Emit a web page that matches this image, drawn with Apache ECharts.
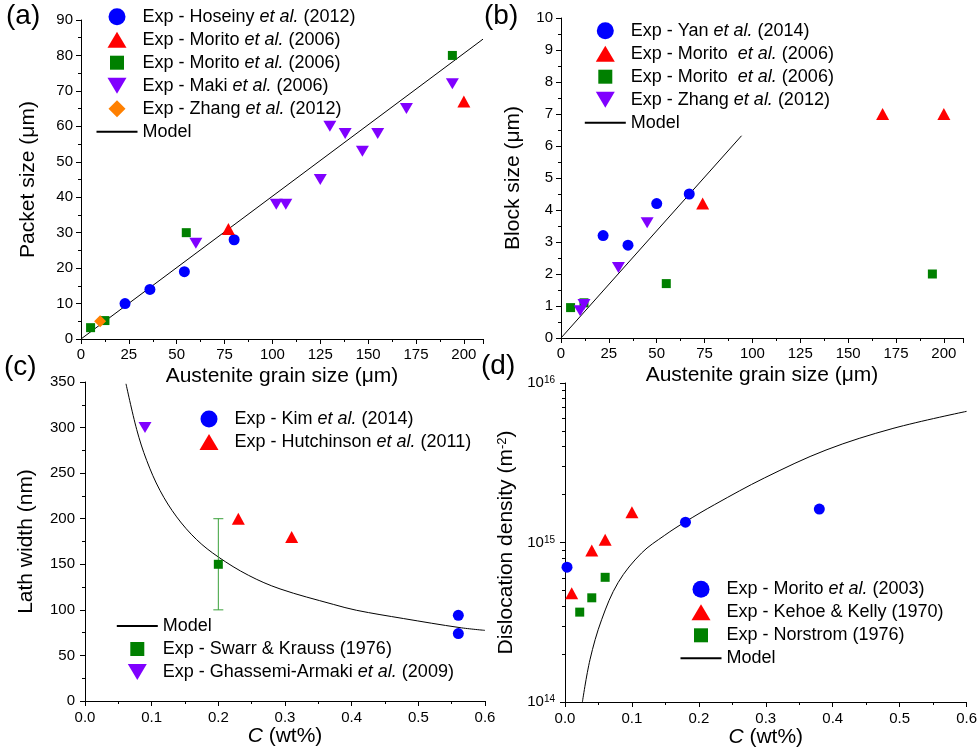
<!DOCTYPE html>
<html><head><meta charset="utf-8">
<script src="https://cdn.jsdelivr.net/npm/echarts@6/dist/echarts.min.js"></script>
<style>html,body{margin:0;padding:0;background:#fff}#c{width:980px;height:753px}</style>
</head><body><div id="c"></div>
<script>
// ---------- Panel (a): packet size vs austenite grain size ----------
const aHoseiny = [[23,10],[36,14],[54,19],[80,28]];
const aMoritoTri = [[77,31],[200,67]];
const aMoritoSq = [[5,3.2],[12.5,5.2],[55,30],[194,80]];
const aMaki = [[60,27],[102,38],[107,38],[125,45],[130,60],[138,58],[147,53],[155,58],[170,65],[194,72]];
const aZhang = [[10,5]];
const aModel = [[0,0],[210,84.6]];
// ---------- Panel (b): block size ----------
const bYan = [[22,3.2],[35,2.9],[50,4.2],[67,4.5]];
const bMoritoTri = [[74,4.2],[168,7],[200,7]];
const bMoritoSq = [[5,0.95],[12,1.1],[55,1.7],[194,2.0]];
const bZhang = [[10,0.85],[12,1.05],[30,2.2],[45,3.6]];
const bModel = [[0,0],[94.3,6.32]];
// ---------- Panel (c): lath width ----------
const cKim = [[0.56,94],[0.56,74]];
const cHutch = [[0.23,200],[0.31,180]];
const cSwarr = [[0.2,150]];
const cSwarrErr = [[0.2,100,200]];
const cGhassemi = [[0.09,300]];
const cModel = [[0.0615,348],[0.0775,298],[0.0925,264],[0.1125,231],[0.1375,202],[0.1675,177],[0.2,158],[0.245,138],[0.2925,123],[0.3725,106],[0.4075,99.5],[0.4775,90.5],[0.5625,80.5],[0.6,77.5]];
// ---------- Panel (d): dislocation density ----------
const dMorito = [[0.003,7.0e14],[0.18,1.34e15],[0.38,1.62e15]];
const dKehoe = [[0.01,4.8e14],[0.04,8.9e14],[0.06,1.04e15],[0.1,1.55e15]];
const dNorstrom = [[0.022,3.66e14],[0.04,4.5e14],[0.06,6.05e14]];
const dModel = [[0.026,1e14],[0.0373,1.84e14],[0.0547,3.28e14],[0.0795,5.62e14],[0.1144,8.59e14],[0.149,1.11e15],[0.18,1.35e15],[0.2237,1.73e15],[0.298,2.54e15],[0.39,3.8e15],[0.49,5.19e15],[0.6,6.64e15]];
const dMinorTicks = [2e14,3e14,4e14,5e14,6e14,7e14,8e14,9e14,2e15,3e15,4e15,5e15,6e15,7e15,8e15,9e15];

// ---------- texts ----------
const LABELS = {
  aHoseiny: 'Exp - Hoseiny {i|et al.} (2012)',
  aMoritoTri: 'Exp - Morito {i|et al.} (2006)',
  aMoritoSq: 'Exp - Morito {i|et al.} (2006)',
  aMaki: 'Exp - Maki {i|et al.} (2006)',
  aZhang: 'Exp - Zhang {i|et al.} (2012)',
  aModel: 'Model',
  bYan: 'Exp - Yan {i|et al.} (2014)',
  bMoritoTri: 'Exp - Morito  {i|et al.} (2006)',
  bMoritoSq: 'Exp - Morito  {i|et al.} (2006)',
  bZhang: 'Exp - Zhang {i|et al.} (2012)',
  bModel: 'Model',
  cKim: 'Exp - Kim {i|et al.} (2014)',
  cHutch: 'Exp - Hutchinson {i|et al.} (2011)',
  cModel: 'Model',
  cSwarr: 'Exp - Swarr & Krauss (1976)',
  cGhassemi: 'Exp - Ghassemi-Armaki {i|et al.} (2009)',
  dMorito: 'Exp - Morito {i|et al.} (2003)',
  dKehoe: 'Exp - Kehoe & Kelly (1970)',
  dNorstrom: 'Exp - Norstrom (1976)',
  dModel: 'Model'
};
const AX_GRAIN = 'Austenite grain size (μm)';
const AX_C = '{i|C} (wt%)';
const AY_A = 'Packet size (μm)';
const AY_B = 'Block size (μm)';
const AY_C = 'Lath width (nm)';
const AY_D = 'Dislocation density (m{s|-2})';

const FONT = '"Liberation Sans", Arial, Helvetica, sans-serif';
const BLUE='#0000ff', RED='#ff0000', GREEN='#008000', PURPLE='#8000ff', ORANGE='#ff8000', EBAR='#3aa03a';
const DOWN = 'path://M0,0 L10,0 L5,8.66 Z';
// legend icons drawn inside a 41x17 box (the leading moves fix the box)
const BOX = 'path://M0,0 M41,17 ';
const ICON = {
  circle: BOX + 'M12,8.5 A8.5,8.5 0 1,1 29,8.5 A8.5,8.5 0 1,1 12,8.5 Z',
  triangle: BOX + 'M11,16.5 L30,16.5 L20.5,0.5 Z',
  rect: BOX + 'M13.5,1.5 L27.5,1.5 L27.5,15.5 L13.5,15.5 Z',
  down: BOX + 'M11,0.5 L30,0.5 L20.5,16.5 Z',
  diamond: BOX + 'M20.5,0 L29,8.5 L20.5,17 L12,8.5 Z'
};

const grids = [
  {left:81, top:20, width:402, height:319},
  {left:561, top:18, width:402, height:320},
  {left:85, top:382, width:400, height:319},
  {left:565, top:383, width:402, height:319},
  {left:565, top:383, width:402, height:319}   // overlay of (d) for its log minor ticks
];

function baseAxis(gi, extra) {
  return Object.assign({
    gridIndex: gi,
    axisLine: {onZero:false, lineStyle:{color:'#000', width:1}},
    axisTick: {inside:false, length:5, lineStyle:{color:'#000', width:1}},
    minorTick: {show:true, splitNumber:2, length:3, lineStyle:{color:'#000', width:1}},
    splitLine: {show:false},
    minorSplitLine: {show:false},
    nameLocation: 'middle',
    nameTextStyle: {color:'#000', fontSize:21, fontFamily:FONT,
      rich:{i:{fontStyle:'italic', fontSize:21, fontFamily:FONT, color:'#000'},
            s:{fontSize:13, fontFamily:FONT, color:'#000', verticalAlign:'top'}}},
    axisLabel: {color:'#000', fontSize:15, fontFamily:FONT, margin:8}
  }, extra);
}
const hide210 = v => v > 200 ? '' : String(v);
const fmt1 = v => v.toFixed(1);

const xAxis = [
  baseAxis(0, {type:'value', min:0, max:210, interval:25, name:AX_GRAIN, nameGap:27,
    axisLabel:{color:'#000', fontSize:15, fontFamily:FONT, margin:8, formatter:hide210}}),
  baseAxis(1, {type:'value', min:0, max:210, interval:25, name:AX_GRAIN, nameGap:27,
    axisLabel:{color:'#000', fontSize:15, fontFamily:FONT, margin:8, formatter:hide210}}),
  baseAxis(2, {type:'value', min:0, max:0.6, interval:0.1, name:AX_C, nameGap:23,
    axisLabel:{color:'#000', fontSize:15, fontFamily:FONT, margin:9, formatter:fmt1}}),
  baseAxis(3, {type:'value', min:0, max:0.6, interval:0.1, name:AX_C, nameGap:23,
    axisLabel:{color:'#000', fontSize:15, fontFamily:FONT, margin:9, formatter:fmt1}}),
  {type:'value', gridIndex:4, min:0, max:0.6, show:false}
];
const yAxis = [
  baseAxis(0, {type:'value', min:0, max:90, interval:10, name:AY_A, nameGap:42}),
  baseAxis(1, {type:'value', min:0, max:10, interval:1, name:AY_B, nameGap:37}),
  baseAxis(2, {type:'value', min:0, max:350, interval:50, name:AY_C, nameGap:48,
    axisLabel:{color:'#000', fontSize:15, fontFamily:FONT, margin:10}}),
  baseAxis(3, {type:'log', logBase:10, min:1e14, max:1e16, name:AY_D, nameGap:48, position:'left',
    minorTick:{show:false},
    axisLabel:{color:'#000', fontSize:15, fontFamily:FONT, margin:10,
      formatter: v => '{b|10}{s|' + Math.round(Math.log10(v)) + '}',
      rich:{b:{fontSize:15, fontFamily:FONT, color:'#000'},
            s:{fontSize:10, fontFamily:FONT, color:'#000', verticalAlign:'top'}}}}),
  // helper axis (linear in the exponent) carrying the log minor ticks of panel (d)
  {type:'value', gridIndex:4, min:14, max:16, position:'left',
    axisLine:{show:false}, axisLabel:{show:false}, splitLine:{show:false}, minorTick:{show:false},
    axisTick:{show:true, inside:false, length:3, customValues:dMinorTicks.map(v => Math.log10(v)),
      lineStyle:{color:'#000', width:1}}}
];

function sc(name, data, gi, symbol, size, color, extra) {
  return Object.assign({name, type:'scatter', data, xAxisIndex:gi, yAxisIndex:gi,
    symbol, symbolSize:size, itemStyle:{color, opacity:1}, z:3}, extra||{});
}
function model(name, data, gi, smooth) {
  return {name, type:'line', data, xAxisIndex:gi, yAxisIndex:gi, symbol:'none', showSymbol:false,
    smooth: smooth ? 0.35 : false,
    lineStyle:{color:'#000', width:1}, itemStyle:{color:'#000'}, z:2, silent:true};
}
const series = [
  sc('aHoseiny', aHoseiny, 0, 'circle', 11, BLUE),
  sc('aMoritoTri', aMoritoTri, 0, 'triangle', [13,12], RED),
  sc('aMoritoSq', aMoritoSq, 0, 'rect', 9, GREEN),
  sc('aMaki', aMaki, 0, DOWN, [13,11], PURPLE),
  sc('aZhang', aZhang, 0, 'diamond', 12, ORANGE),
  model('aModel', aModel, 0, false),
  sc('bYan', bYan, 1, 'circle', 11, BLUE),
  sc('bMoritoTri', bMoritoTri, 1, 'triangle', [13,12], RED),
  sc('bMoritoSq', bMoritoSq, 1, 'rect', 9, GREEN),
  sc('bZhang', bZhang, 1, DOWN, [13,11], PURPLE),
  model('bModel', bModel, 1, false),
  sc('cKim', cKim, 2, 'circle', 11, BLUE),
  sc('cHutch', cHutch, 2, 'triangle', [13,12], RED),
  sc('cSwarr', cSwarr, 2, 'rect', 9, GREEN, {z:4}),
  sc('cGhassemi', cGhassemi, 2, DOWN, [13,11], PURPLE),
  model('cModel', cModel, 2, true),
  {type:'custom', xAxisIndex:2, yAxisIndex:2, data:cSwarrErr, z:3, silent:true,
    encode:{x:0, y:[1,2]},
    renderItem:(params, api) => {
      const x = api.value(0), lo = api.value(1), hi = api.value(2);
      const p1 = api.coord([x, lo]), p2 = api.coord([x, hi]);
      const w = 5, st = {stroke:EBAR, lineWidth:1};
      return {type:'group', children:[
        {type:'line', shape:{x1:p1[0], y1:p1[1], x2:p2[0], y2:p2[1]}, style:st},
        {type:'line', shape:{x1:p1[0]-w, y1:p1[1], x2:p1[0]+w, y2:p1[1]}, style:st},
        {type:'line', shape:{x1:p2[0]-w, y1:p2[1], x2:p2[0]+w, y2:p2[1]}, style:st}
      ]};
    }},
  sc('dMorito', dMorito, 3, 'circle', 11, BLUE),
  sc('dKehoe', dKehoe, 3, 'triangle', [13,12], RED),
  sc('dNorstrom', dNorstrom, 3, 'rect', 9, GREEN),
  model('dModel', dModel, 3, true)
];

const HIDE_SYM = {color:'rgba(0,0,0,0)', opacity:0, borderWidth:0};
function lg(items, left, top) {
  const data = items.map(([n, ic]) => ic ? {name:n, icon:ICON[ic]} : {name:n, itemStyle:HIDE_SYM});
  return {data, left, top, orient:'vertical', itemWidth:41, itemHeight:17, itemGap:5, padding:5,
    selectedMode:false, formatter: n => LABELS[n],
    textStyle:{fontSize:18, fontFamily:FONT, color:'#000',
      rich:{i:{fontStyle:'italic', fontSize:18, fontFamily:FONT, color:'#000'}}}};
}
const legend = [
  lg([['aHoseiny','circle'],['aMoritoTri','triangle'],['aMoritoSq','rect'],['aMaki','down'],['aZhang','diamond'],['aModel']], 90.5, 2.7),
  lg([['bYan','circle'],['bMoritoTri','triangle'],['bMoritoSq','rect'],['bZhang','down'],['bModel']], 578.8, 16.7),
  lg([['cKim','circle'],['cHutch','triangle']], 183.5, 405),
  lg([['cModel'],['cSwarr','rect'],['cGhassemi','down']], 110.8, 612),
  lg([['dMorito','circle'],['dKehoe','triangle'],['dNorstrom','rect'],['dModel']], 674.5, 575.3)
];

const tStyle = {fontSize:28, fontWeight:'normal', fontFamily:FONT, color:'#000'};
const title = [
  {text:'(a)', left:6, top:2, padding:0, textStyle:tStyle},
  {text:'(b)', left:484, top:2, padding:0, textStyle:tStyle},
  {text:'(c)', left:4, top:353, padding:0, textStyle:tStyle},
  {text:'(d)', left:481, top:352, padding:0, textStyle:tStyle}
];

const chart = echarts.init(document.getElementById('c'), null, {renderer:'canvas'});
chart.setOption({animation:false, backgroundColor:'#fff', title, legend, grid:grids, xAxis, yAxis, series});
</script></body></html>
